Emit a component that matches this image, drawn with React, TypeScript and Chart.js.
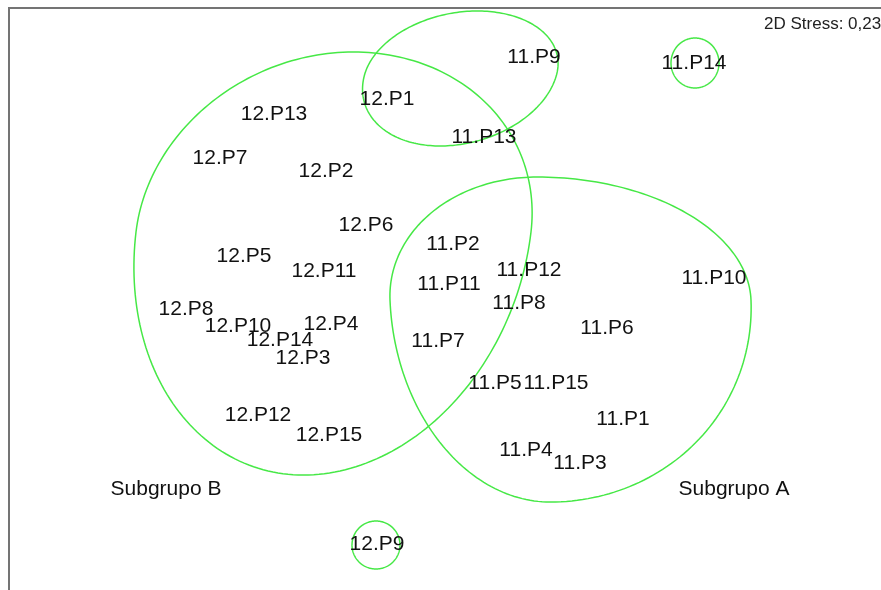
import React, { useEffect, useRef } from "react";
import { Chart, registerables } from "chart.js";

Chart.register(...registerables);

// Group B (12.*) sample labels and MDS coordinates (plot units)
const groupBLabels = ["12.P1", "12.P2", "12.P3", "12.P4", "12.P5", "12.P6", "12.P7", "12.P8", "12.P9", "12.P10", "12.P11", "12.P12", "12.P13", "12.P14", "12.P15"];
const groupBX = [387, 326, 303, 331, 244, 366, 220, 186, 377, 238, 324, 258, 274, 280, 329];
const groupBY = [98, 170, 357, 323, 255, 224, 157, 308, 543, 325, 270, 414, 113, 339, 434];

// Group A (11.*) sample labels and MDS coordinates (plot units)
const groupALabels = ["11.P1", "11.P2", "11.P3", "11.P4", "11.P5", "11.P6", "11.P7", "11.P8", "11.P9", "11.P10", "11.P11", "11.P12", "11.P13", "11.P14", "11.P15"];
const groupAX = [623, 453, 580, 526, 495, 607, 438, 519, 534, 714, 449, 529, 484, 694, 556];
const groupAY = [418, 243, 462, 449, 382, 327, 340, 302, 56, 277, 283, 269, 136, 62, 382];

// Cluster outlines (plot units): centre, left/right/top/bottom extents, shear
const hullCx = [332, 459.5, 542, 695, 376];
const hullCy = [232, 75, 300, 63, 545];
const hullLeft = [196, 95, 152, 24, 24];
const hullRight = [199, 97, 209, 24, 24];
const hullTop = [180, 64, 123, 25, 24];
const hullBottom = [243, 71, 202, 25, 24];
const hullShear = [0.118, 0.274, -0.04, 0, 0];

// Annotations
const groupNames = ["Subgrupo B", "Subgrupo A"];
const groupNameX = [166, 734];
const groupNameY = [488, 488];
const stressText = "2D Stress: 0,23";

const FONT = '"Liberation Sans", Arial, sans-serif';

const overlayPlugin = {
  id: "mdsOverlay",
  beforeDatasetsDraw(chart: any) {
    const { ctx, scales } = chart;
    const xs = scales.x;
    const ys = scales.y;
    ctx.save();
    ctx.strokeStyle = "rgb(70, 232, 70)";
    ctx.lineWidth = 1.5;
    for (let h = 0; h < hullCx.length; h++) {
      const cx = xs.getPixelForValue(hullCx[h]);
      const cy = ys.getPixelForValue(hullCy[h]);
      const kx = Math.abs(xs.getPixelForValue(1) - xs.getPixelForValue(0));
      const ky = Math.abs(ys.getPixelForValue(1) - ys.getPixelForValue(0));
      const n = 240;
      ctx.beginPath();
      for (let i = 0; i <= n; i++) {
        const t = (i / n) * Math.PI * 2;
        const c = Math.cos(t);
        const s = Math.sin(t);
        const dy = (s > 0 ? hullBottom[h] : hullTop[h]) * s;
        const dx = (c > 0 ? hullRight[h] : hullLeft[h]) * c - hullShear[h] * dy;
        const px = cx + dx * kx;
        const py = cy + dy * ky;
        if (i === 0) ctx.moveTo(px, py);
        else ctx.lineTo(px, py);
      }
      ctx.closePath();
      ctx.stroke();
    }
    ctx.restore();
  },
  afterDatasetsDraw(chart: any) {
    const { ctx, scales } = chart;
    ctx.save();
    ctx.fillStyle = "#111111";
    ctx.textAlign = "center";
    ctx.textBaseline = "middle";
    ctx.font = "21px " + FONT;
    chart.data.datasets.forEach((ds: any, di: number) => {
      const meta = chart.getDatasetMeta(di);
      meta.data.forEach((el: any, i: number) => {
        ctx.fillText(ds.pointLabels[i], el.x, el.y + 1.5);
      });
    });
    for (let g = 0; g < groupNames.length; g++) {
      ctx.fillText(groupNames[g], scales.x.getPixelForValue(groupNameX[g]), scales.y.getPixelForValue(groupNameY[g]) + 1);
    }
    ctx.font = "17px " + FONT;
    ctx.textAlign = "left";
    ctx.fillStyle = "#222222";
    ctx.fillText(stressText, 764, 24);
    // frame
    ctx.strokeStyle = "#747474";
    ctx.lineWidth = 2;
    ctx.beginPath();
    ctx.moveTo(9, 600);
    ctx.lineTo(9, 8);
    ctx.lineTo(900, 8);
    ctx.stroke();
    ctx.restore();
  },
};

export default function App() {
  const canvasRef = useRef<HTMLCanvasElement | null>(null);

  useEffect(() => {
    if (!canvasRef.current) return;
    const chart = new Chart(canvasRef.current, {
      type: "scatter",
      data: {
        datasets: [
          {
            label: "Subgrupo B",
            data: groupBX.map((x, i) => ({ x, y: groupBY[i] })),
            pointLabels: groupBLabels,
            pointRadius: 0,
            pointHoverRadius: 0,
          } as any,
          {
            label: "Subgrupo A",
            data: groupAX.map((x, i) => ({ x, y: groupAY[i] })),
            pointLabels: groupALabels,
            pointRadius: 0,
            pointHoverRadius: 0,
          } as any,
        ],
      },
      options: {
        animation: false,
        responsive: false,
        maintainAspectRatio: false,
        layout: { padding: 0 },
        plugins: {
          legend: { display: false },
          tooltip: { enabled: false },
          title: { display: false },
        },
        scales: {
          x: { type: "linear", min: 0, max: 881, display: false },
          y: { type: "linear", min: 0, max: 590, reverse: true, display: false },
        },
      },
      plugins: [overlayPlugin],
    });
    return () => chart.destroy();
  }, []);

  return (
    <div style={{ position: "fixed", left: 0, top: 0, width: 881, height: 590, background: "#ffffff" }}>
      <canvas ref={canvasRef} width={881} height={590} style={{ display: "block" }} />
    </div>
  );
}
